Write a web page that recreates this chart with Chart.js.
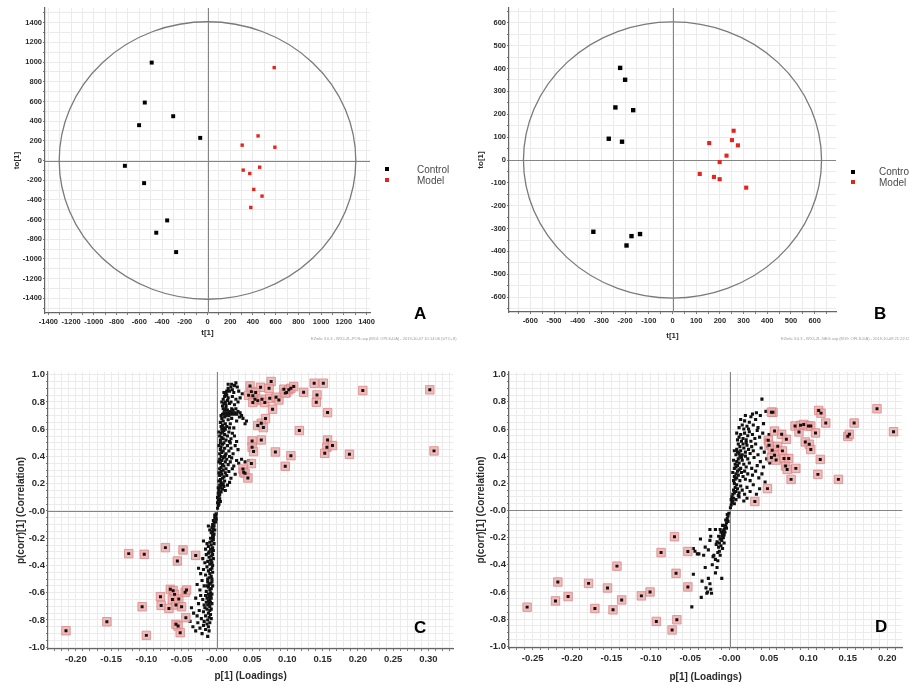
<!DOCTYPE html>
<html>
<head>
<meta charset="utf-8">
<script src="https://cdn.jsdelivr.net/npm/chart.js@4/dist/chart.umd.min.js"></script>
<style>
  html, body { margin: 0; padding: 0; background: #fff; }
  body { position: relative; width: 909px; height: 685px; overflow: hidden; font-family: "Liberation Sans", Arial, sans-serif; }
  canvas { position: absolute; }
  .tag { position: absolute; font: bold 17px "Liberation Sans", Arial, sans-serif; line-height: 17px; color: #000; }
  .leg { position: absolute; font: 10px "Liberation Sans", Arial, sans-serif; line-height: 10px; color: #4a4a4a; white-space: nowrap; }
  .mk { position: absolute; width: 4px; height: 4px; }
  .stamp { position: absolute; font: 4px "Liberation Sans", Arial, sans-serif; color: #9a9a9a; white-space: nowrap; }
</style>
</head>
<body>
<canvas id="cA" width="455" height="345" style="left:0;top:0"></canvas>
<canvas id="cB" width="454" height="345" style="left:455px;top:0"></canvas>
<canvas id="cC" width="460" height="340" style="left:0;top:345px"></canvas>
<canvas id="cD" width="449" height="340" style="left:460px;top:345px"></canvas>

<div class="mk" style="left:385px;top:167px;background:#000"></div>
<div class="leg" style="left:417px;top:165px">Control</div>
<div class="mk" style="left:385px;top:178px;background:#e52420"></div>
<div class="leg" style="left:417px;top:176px">Model</div>

<div class="mk" style="left:851px;top:170px;background:#000"></div>
<div class="leg" style="left:879px;top:167px">Control</div>
<div class="mk" style="left:851px;top:180px;background:#e52420"></div>
<div class="leg" style="left:879px;top:178px">Model</div>

<div class="tag" style="left:414px;top:305px">A</div>
<div class="tag" style="left:874px;top:305px">B</div>
<div class="tag" style="left:414px;top:619px">C</div>
<div class="tag" style="left:875px;top:618px">D</div>

<div class="stamp" style="left:311px;top:336px">EZinfo 3.0.3 - WXJ-ZL-POS.usp (M14: OPLS-DA) - 2019-10-07 10:14:06 (UTC+8)</div>
<div class="stamp" style="left:781px;top:336px">EZinfo 3.0.3 - WXJ-ZL-NEG.usp (M19: OPLS-DA) - 2019-10-08 21:22:15 (UTC+8)</div>

<script>
// ---------- Score plot A (positive ion mode) ----------
const A_CONTROL = [[-491,995],[-552,589],[-302,450],[-602,359],[-64,230],[-727,-54],[-558,-230],[-355,-609],[-451,-734],[-276,-931]];
const A_MODEL = [[587,944],[445,250],[305,156],[593,135],[459,-68],[314,-98],[372,-132],[407,-294],[480,-362],[381,-477]];
const A_TICK_LABELS = [-1400,-1200,-1000,-800,-600,-400,-200,0,200,400,600,800,1000,1200,1400];
const A_ELLIPSE = [1305, 1410];

// ---------- Score plot B (negative ion mode) ----------
const B_CONTROL = [[-221,403],[-200,351],[-241,230],[-166,218],[-269,93],[-213,80],[-334,-314],[-137,-324],[-173,-333],[-194,-374]];
const B_MODEL = [[258,128],[155,74],[251,87],[276,64],[228,19],[199,-9],[115,-61],[175,-74],[199,-84],[311,-121]];
const B_TICK_LABELS = [-600,-500,-400,-300,-200,-100,0,100,200,300,400,500,600];
const B_ELLIPSE = [629, 604];

// ---------- S-plot C: all variables ----------
const C_VARS = [
  [0.001,0.02],[0.002,0.04],[0.001,0.06],[0.003,0.05],[0.002,0.08],[0.004,0.09],[0.003,0.11],[0.001,0.10],[0.005,0.07],[0.002,0.13],
  [0.004,0.12],[0.006,0.14],[0.003,0.15],[0.005,0.17],[0.008,0.16],[0.004,0.19],[0.007,0.19],[0.010,0.18],[0.002,0.17],[0.006,0.21],[0.012,0.15],[0.009,0.20],[0.015,0.19],[0.003,0.22],
  [0.005,0.23],[0.008,0.24],[0.004,0.26],[0.007,0.27],[0.010,0.25],[0.012,0.28],[0.006,0.29],[0.009,0.30],[0.014,0.26],[0.017,0.29],[0.020,0.24],[0.003,0.28],[0.011,0.22],[0.018,0.21],[0.022,0.31],[0.026,0.27],[0.004,0.31],
  [0.006,0.32],[0.008,0.34],[0.005,0.35],[0.010,0.33],[0.012,0.36],[0.007,0.37],[0.004,0.38],[0.009,0.39],[0.014,0.38],[0.016,0.34],[0.019,0.36],[0.021,0.39],[0.024,0.33],[0.028,0.37],[0.031,0.35],[0.006,0.40],[0.011,0.40],[0.003,0.36],[0.035,0.38],[0.040,0.36],[0.045,0.37],[0.013,0.31],[0.018,0.40],
  [0.004,0.42],[0.007,0.43],[0.005,0.45],[0.009,0.44],[0.011,0.46],[0.006,0.47],[0.008,0.49],[0.013,0.42],[0.015,0.48],[0.003,0.48],[0.017,0.44],[0.020,0.46],[0.023,0.42],[0.010,0.50],[0.026,0.48],[0.030,0.45],[0.012,0.41],[0.005,0.50],[0.019,0.50],
  [0.005,0.52],[0.007,0.54],[0.004,0.55],[0.009,0.53],[0.006,0.57],[0.008,0.58],[0.011,0.56],[0.013,0.52],[0.010,0.59],[0.015,0.55],[0.017,0.58],[0.020,0.53],[0.003,0.58],[0.007,0.60],[0.022,0.57],[0.025,0.55],[0.012,0.60],[0.028,0.51],[0.018,0.51],
  [0.006,0.62],[0.008,0.63],[0.010,0.61],[0.005,0.65],[0.009,0.66],[0.012,0.64],[0.014,0.62],[0.007,0.68],[0.011,0.69],[0.016,0.67],[0.019,0.64],[0.021,0.68],[0.024,0.61],[0.013,0.70],[0.028,0.66],[0.032,0.69],[0.037,0.68],[0.040,0.64],[0.042,0.66],[0.018,0.61],[0.006,0.70],
  [0.008,0.71],[0.010,0.72],[0.012,0.71],[0.014,0.72],[0.016,0.71],[0.018,0.72],[0.020,0.71],[0.022,0.72],[0.024,0.71],[0.026,0.72],[0.028,0.71],[0.011,0.74],[0.015,0.74],[0.019,0.73],[0.023,0.74],[0.030,0.73],[0.033,0.72],[0.009,0.75],[0.013,0.76],[0.021,0.75],[0.027,0.75],[0.035,0.70],[0.017,0.70],
  [0.008,0.77],[0.010,0.79],[0.012,0.80],[0.009,0.82],[0.013,0.78],[0.015,0.81],[0.018,0.79],[0.011,0.84],[0.016,0.83],[0.020,0.80],[0.022,0.84],[0.025,0.78],[0.027,0.82],[0.014,0.85],[0.030,0.80],[0.033,0.83],[0.036,0.86],[0.007,0.80],
  [0.012,0.86],[0.014,0.88],[0.016,0.90],[0.013,0.87],[0.018,0.88],[0.020,0.91],[0.022,0.89],[0.016,0.93],[0.021,0.93],[0.025,0.92],[0.027,0.94],[0.029,0.91],[0.031,0.88],[0.024,0.87],[0.010,0.87],
  [-0.001,-0.02],[-0.002,-0.04],[-0.001,-0.06],[-0.003,-0.05],[-0.002,-0.08],[-0.004,-0.09],[-0.003,-0.03],[-0.005,-0.07],[-0.006,-0.10],
  [-0.004,-0.11],[-0.005,-0.13],[-0.003,-0.14],[-0.006,-0.15],[-0.007,-0.12],[-0.004,-0.17],[-0.006,-0.18],[-0.008,-0.16],[-0.005,-0.19],[-0.010,-0.14],[-0.009,-0.20],[-0.012,-0.11],
  [-0.005,-0.21],[-0.007,-0.22],[-0.004,-0.24],[-0.008,-0.25],[-0.006,-0.27],[-0.010,-0.23],[-0.009,-0.28],[-0.012,-0.26],[-0.005,-0.29],[-0.011,-0.30],[-0.014,-0.24],[-0.016,-0.28],[-0.019,-0.22],[-0.007,-0.30],
  [-0.006,-0.32],[-0.008,-0.33],[-0.005,-0.35],[-0.009,-0.36],[-0.007,-0.38],[-0.011,-0.34],[-0.010,-0.39],[-0.013,-0.37],[-0.006,-0.40],[-0.015,-0.32],[-0.017,-0.38],[-0.020,-0.35],[-0.012,-0.31],[-0.008,-0.37],
  [-0.007,-0.42],[-0.009,-0.43],[-0.006,-0.45],[-0.010,-0.46],[-0.008,-0.48],[-0.012,-0.44],[-0.011,-0.49],[-0.014,-0.41],[-0.007,-0.50],[-0.016,-0.47],[-0.019,-0.43],[-0.023,-0.46],[-0.013,-0.50],[-0.026,-0.42],
  [-0.007,-0.52],[-0.009,-0.53],[-0.006,-0.55],[-0.011,-0.54],[-0.008,-0.57],[-0.010,-0.58],[-0.013,-0.52],[-0.012,-0.56],[-0.015,-0.59],[-0.009,-0.60],[-0.018,-0.55],[-0.021,-0.51],[-0.024,-0.58],[-0.028,-0.54],[-0.014,-0.55],
  [-0.007,-0.61],[-0.009,-0.62],[-0.011,-0.63],[-0.008,-0.64],[-0.010,-0.65],[-0.012,-0.66],[-0.009,-0.67],[-0.011,-0.68],[-0.013,-0.69],[-0.010,-0.70],[-0.014,-0.64],[-0.015,-0.67],[-0.016,-0.62],[-0.018,-0.69],[-0.020,-0.65],[-0.023,-0.62],[-0.026,-0.68],[-0.030,-0.64],[-0.012,-0.61],[-0.007,-0.68],
  [-0.008,-0.72],[-0.010,-0.73],[-0.012,-0.75],[-0.009,-0.76],[-0.014,-0.72],[-0.011,-0.78],[-0.016,-0.77],[-0.013,-0.80],[-0.019,-0.74],[-0.022,-0.79],[-0.025,-0.73],[-0.028,-0.77],[-0.033,-0.75],[-0.036,-0.71],[-0.017,-0.71],[-0.008,-0.79],
  [-0.010,-0.82],[-0.012,-0.85],[-0.014,-0.83],[-0.011,-0.88],[-0.016,-0.87],[-0.019,-0.84],[-0.021,-0.90],[-0.024,-0.86],[-0.027,-0.82],[-0.013,-0.92],[-0.030,-0.88],[-0.034,-0.85],[-0.038,-0.81],[-0.018,-0.81]
];
// S-plot C: variables selected as differential metabolites
const C_MARKED = [
  [0.077,0.950],[0.047,0.918],[0.062,0.908],[0.074,0.900],[0.049,0.876],[0.055,0.869],[0.051,0.845],[0.045,0.849],[0.054,0.820],[0.058,0.810],
  [0.051,0.796],[0.064,0.820],[0.068,0.796],[0.075,0.827],[0.084,0.835],[0.088,0.815],[0.095,0.894],[0.099,0.869],[0.102,0.889],[0.105,0.900],
  [0.109,0.913],[0.097,0.865],[0.123,0.871],[0.138,0.938],[0.151,0.938],[0.142,0.852],[0.141,0.798],[0.207,0.884],[0.302,0.889],[0.079,0.747],
  [0.157,0.722],[0.069,0.678],[0.063,0.644],[0.058,0.627],[0.066,0.612],[0.117,0.590],[0.050,0.514],[0.063,0.521],[0.157,0.521],[0.156,0.468],
  [0.164,0.480],[0.153,0.423],[0.050,0.468],[0.052,0.436],[0.083,0.433],[0.105,0.406],[0.188,0.416],[0.308,0.441],[0.097,0.328],[0.049,0.348],
  [0.037,0.308],[0.038,0.284],[0.040,0.277],[0.044,0.242],
  [-0.125,-0.313],[-0.103,-0.318],[-0.073,-0.269],[-0.048,-0.286],[-0.030,-0.326],[-0.056,-0.367],[-0.080,-0.629],[-0.079,-0.693],[-0.066,-0.575],[-0.062,-0.585],
  [-0.060,-0.612],[-0.063,-0.649],[-0.068,-0.715],[-0.058,-0.690],[-0.054,-0.646],[-0.050,-0.703],[-0.045,-0.597],[-0.043,-0.580],[-0.106,-0.703],[-0.044,-0.783],
  [-0.058,-0.832],[-0.055,-0.845],[-0.052,-0.893],[-0.100,-0.913],[-0.156,-0.813],[-0.214,-0.879]
];
const C_X_LABELS = [-0.20,-0.15,-0.10,-0.05,0,0.05,0.10,0.15,0.20,0.25,0.30];
const CD_Y_LABELS = [-1.0,-0.8,-0.6,-0.4,-0.2,0,0.2,0.4,0.6,0.8,1.0];

// ---------- S-plot D: all variables ----------
const D_VARS = [
  [0.001,0.02],[0.002,0.04],[0.003,0.06],[0.002,0.08],[0.004,0.07],[0.005,0.09],[0.003,0.10],[0.006,0.05],[0.008,0.08],[0.012,0.10],[0.018,0.07],[0.022,0.09],
  [0.004,0.12],[0.006,0.13],[0.005,0.15],[0.008,0.14],[0.007,0.17],[0.010,0.16],[0.009,0.19],[0.012,0.13],[0.014,0.18],[0.016,0.15],[0.019,0.12],[0.022,0.17],[0.026,0.14],[0.030,0.19],[0.034,0.12],[0.038,0.16],[0.006,0.20],[0.011,0.11],
  [0.005,0.22],[0.007,0.23],[0.006,0.25],[0.009,0.24],[0.008,0.27],[0.011,0.26],[0.010,0.29],[0.013,0.22],[0.015,0.28],[0.017,0.25],[0.020,0.23],[0.019,0.29],[0.023,0.27],[0.026,0.22],[0.029,0.26],[0.033,0.29],[0.037,0.24],[0.041,0.27],[0.012,0.30],[0.004,0.28],[0.045,0.21],
  [0.006,0.31],[0.008,0.32],[0.007,0.34],[0.010,0.33],[0.009,0.36],[0.012,0.35],[0.011,0.38],[0.014,0.31],[0.016,0.37],[0.018,0.34],[0.013,0.40],[0.021,0.32],[0.023,0.38],[0.025,0.35],[0.028,0.31],[0.031,0.39],[0.035,0.33],[0.039,0.36],[0.043,0.32],[0.047,0.38],[0.051,0.35],[0.015,0.39],[0.005,0.37],[0.020,0.40],
  [0.008,0.41],[0.010,0.43],[0.012,0.42],[0.009,0.45],[0.014,0.44],[0.016,0.41],[0.013,0.47],[0.018,0.46],[0.020,0.43],[0.022,0.48],[0.024,0.45],[0.017,0.49],[0.026,0.42],[0.028,0.47],[0.030,0.44],[0.033,0.49],[0.036,0.41],[0.040,0.46],[0.044,0.43],[0.048,0.47],[0.011,0.49],[0.021,0.50],[0.006,0.44],
  [0.010,0.52],[0.012,0.54],[0.015,0.51],[0.014,0.56],[0.017,0.53],[0.019,0.57],[0.021,0.52],[0.023,0.55],[0.025,0.58],[0.027,0.51],[0.029,0.56],[0.032,0.53],[0.035,0.59],[0.038,0.54],[0.042,0.57],[0.046,0.52],[0.018,0.60],[0.024,0.60],[0.009,0.57],[0.050,0.56],
  [0.012,0.61],[0.016,0.63],[0.019,0.66],[0.022,0.62],[0.025,0.65],[0.027,0.69],[0.030,0.63],[0.033,0.67],[0.036,0.61],[0.039,0.70],[0.043,0.64],[0.046,0.73],[0.020,0.70],[0.014,0.67],[0.029,0.71],[0.041,0.82],[0.034,0.72],
  [-0.001,-0.02],[-0.002,-0.04],[-0.003,-0.06],[-0.002,-0.08],[-0.004,-0.09],[-0.005,-0.11],[-0.004,-0.13],[-0.006,-0.12],[-0.007,-0.14],[-0.006,-0.16],
  [-0.008,-0.15],[-0.009,-0.17],[-0.007,-0.18],[-0.010,-0.19],[-0.011,-0.16],[-0.012,-0.14],[-0.018,-0.14],[-0.025,-0.14],[-0.008,-0.20],[-0.010,-0.22],
  [-0.012,-0.21],[-0.013,-0.24],[-0.011,-0.26],[-0.014,-0.27],[-0.016,-0.23],[-0.017,-0.25],[-0.024,-0.19],[-0.025,-0.22],[-0.037,-0.21],[-0.031,-0.27],
  [-0.027,-0.29],[-0.013,-0.30],[-0.015,-0.31],[-0.009,-0.28],[-0.039,-0.32],[-0.033,-0.33],[-0.021,-0.34],[-0.018,-0.36],[-0.015,-0.37],[-0.046,-0.28],
  [-0.044,-0.30],[-0.041,-0.32],[-0.031,-0.42],[-0.046,-0.47],[-0.018,-0.46],[-0.027,-0.50],[-0.010,-0.50],[-0.035,-0.52],[-0.025,-0.54],[-0.030,-0.57],
  [-0.024,-0.58],[-0.029,-0.61],[-0.023,-0.61],[-0.036,-0.64],[-0.048,-0.71],[-0.020,-0.33],[-0.022,-0.40],[-0.016,-0.42],
  [-0.003,-0.03],[-0.005,-0.07],[-0.009,-0.11],[-0.011,-0.21],[-0.007,-0.24],[-0.014,-0.19],[-0.012,-0.33],[-0.028,-0.60]
];
// S-plot D: variables selected as differential metabolites
const D_MARKED = [
  [-0.257,-0.712],[-0.221,-0.666],[-0.218,-0.527],[-0.205,-0.634],[-0.179,-0.537],[-0.171,-0.722],[-0.155,-0.571],[-0.148,-0.732],[-0.143,-0.410],[-0.137,-0.659],
  [-0.112,-0.629],[-0.101,-0.600],[-0.093,-0.817],[-0.087,-0.310],[-0.073,-0.880],[-0.070,-0.193],[-0.068,-0.463],[-0.067,-0.805],[-0.053,-0.302],[-0.053,-0.563],
  [0.032,0.066],[0.048,0.161],[0.055,0.724],[0.053,0.724],[0.057,0.585],[0.049,0.517],[0.050,0.480],[0.054,0.444],[0.057,0.407],[0.053,0.390],
  [0.059,0.371],[0.061,0.473],[0.066,0.561],[0.067,0.439],[0.069,0.383],[0.072,0.524],[0.071,0.327],[0.073,0.302],[0.075,0.383],[0.078,0.229],
  [0.084,0.310],[0.083,0.622],[0.088,0.578],[0.090,0.627],[0.094,0.634],[0.100,0.622],[0.103,0.622],[0.096,0.505],[0.101,0.488],[0.103,0.449],
  [0.109,0.571],[0.112,0.266],[0.113,0.737],[0.116,0.717],[0.115,0.376],[0.122,0.644],[0.138,0.229],[0.150,0.546],[0.152,0.561],[0.158,0.644],
  [0.187,0.749],[0.208,0.580]
];
const D_X_LABELS = [-0.25,-0.20,-0.15,-0.10,-0.05,0,0.05,0.10,0.15,0.20];

const FONT = '"Liberation Sans", Arial, sans-serif';
const toXY = pts => pts.map(([x, y]) => ({ x, y }));

// positions of the grid/tick lines: every multiple of step inside [min, max]
function gridValues(min, max, step) {
  const out = [];
  for (let k = Math.ceil(min / step - 1e-9); k <= Math.floor(max / step + 1e-9); k++) {
    out.push(+(k * step).toFixed(6));
  }
  return out;
}

function axis(o) {
  return {
    type: 'linear',
    position: o.pos,
    min: o.min,
    max: o.max,
    afterBuildTicks(s) { s.ticks = gridValues(o.min, o.max, o.step).map(v => ({ value: v })); },
    afterFit(s) { if (o.pos === 'bottom') s.height = o.size; else s.width = o.size; },
    ticks: {
      autoSkip: false, maxRotation: 0, minRotation: 0,
      padding: o.pad, color: '#2b2b2b',
      font: { family: FONT, size: o.fs, weight: 'bold' },
      callback: v => o.labels.some(l => Math.abs(l - v) < o.step / 4) ? o.fmt(v) : ''
    },
    grid: {
      color: '#ebebeb', lineWidth: 1,
      drawTicks: true, tickLength: 2, tickColor: '#777', tickWidth: 1
    },
    border: { display: true, color: '#666', width: 1.2 },
    title: {
      display: true, text: o.title, color: '#2b2b2b',
      font: { family: FONT, size: o.tfs, weight: 'bold' },
      padding: o.tpad
    }
  };
}

// origin cross-hair lines, drawn over the light grid
const zeroLinesPlugin = {
  id: 'zeroLines',
  beforeDatasetsDraw(chart) {
    const { x, y } = chart.scales;
    const a = chart.chartArea;
    const ctx = chart.ctx;
    const px = Math.round(x.getPixelForValue(0)) + 0.5;
    const py = Math.round(y.getPixelForValue(0)) + 0.5;
    ctx.save();
    ctx.strokeStyle = '#858585';
    ctx.lineWidth = 1;
    ctx.beginPath();
    ctx.moveTo(px, a.top); ctx.lineTo(px, a.bottom);
    ctx.moveTo(a.left, py); ctx.lineTo(a.right, py);
    ctx.stroke();
    ctx.restore();
  }
};

// Hotelling T2 ellipse around the origin of the score plots
const ellipsePlugin = {
  id: 'hotelling',
  beforeDatasetsDraw(chart, args, opts) {
    if (!opts || !opts.rx) return;
    const { x, y } = chart.scales;
    const ctx = chart.ctx;
    const cx = x.getPixelForValue(0), cy = y.getPixelForValue(0);
    const rx = Math.abs(x.getPixelForValue(opts.rx) - cx);
    const ry = Math.abs(y.getPixelForValue(opts.ry) - cy);
    ctx.save();
    ctx.beginPath();
    ctx.ellipse(cx, cy, rx, ry, 0, 0, Math.PI * 2);
    ctx.strokeStyle = '#7a7a7a';
    ctx.lineWidth = 1.3;
    ctx.stroke();
    ctx.restore();
  }
};

const intFmt = v => String(Math.round(v));
const fmt2 = v => Math.abs(v) < 1e-9 ? '-0.00' : v.toFixed(2);
const fmt1 = v => Math.abs(v) < 1e-9 ? '-0.0' : v.toFixed(1);

function baseOptions(padding, xAxis, yAxis, extraPlugins) {
  return {
    responsive: false,
    animation: false,
    events: [],
    layout: { padding },
    plugins: Object.assign({ legend: { display: false }, tooltip: { enabled: false } }, extraPlugins || {}),
    scales: { x: xAxis, y: yAxis }
  };
}

function scoreChart(id, control, model, labels, range, step, ell, pad, xSize, ySize, xt, yt, rC, rM) {
  new Chart(document.getElementById(id), {
    type: 'scatter',
    data: {
      datasets: [
        { label: 'Model', data: toXY(model), pointStyle: 'rect', pointRadius: rM, backgroundColor: '#e52420', borderWidth: 0 },
        { label: 'Control', data: toXY(control), pointStyle: 'rect', pointRadius: rC, backgroundColor: '#000', borderWidth: 0 }
      ]
    },
    options: baseOptions(pad,
      axis({ pos: 'bottom', min: -range[0], max: range[0], step: step, labels, fmt: intFmt, size: xSize, pad: 2, fs: 7.5, title: 't[1]', tfs: 8, tpad: xt }),
      axis({ pos: 'left', min: -range[1], max: range[1], step: step, labels, fmt: intFmt, size: ySize, pad: 1, fs: 7.5, title: 'to[1]', tfs: 8, tpad: yt }),
      { hotelling: { rx: ell[0], ry: ell[1] } }),
    plugins: [zeroLinesPlugin, ellipsePlugin]
  });
}

function sPlot(id, vars, marked, xLabels, xRange, pad, xSize, ySize) {
  new Chart(document.getElementById(id), {
    type: 'scatter',
    data: {
      datasets: [
        { label: 'marked', data: toXY(marked), pointStyle: 'rect', pointRadius: 2.1, backgroundColor: '#111', borderWidth: 0 },
        { label: 'box', data: toXY(marked), pointStyle: 'rect', pointRadius: 6, backgroundColor: 'rgba(236,170,170,0.8)', borderColor: 'rgba(214,128,128,0.9)', borderWidth: 0.8 },
        { label: 'vars', data: toXY(vars), pointStyle: 'rect', pointRadius: 2.2, backgroundColor: '#111', borderWidth: 0 }
      ]
    },
    options: baseOptions(pad,
      axis({ pos: 'bottom', min: xRange[0], max: xRange[1], step: 0.01, labels: xLabels, fmt: fmt2, size: xSize, pad: 3, fs: 9.5, title: 'p[1] (Loadings)', tfs: 10, tpad: { top: 0, bottom: 1 } }),
      axis({ pos: 'left', min: -1.013, max: 1.02, step: 0.05, labels: CD_Y_LABELS, fmt: fmt1, size: ySize, pad: 1, fs: 9.5, title: 'p(corr)[1] (Correlation)', tfs: 10, tpad: { top: 5, bottom: 0 } })),
    plugins: [zeroLinesPlugin]
  });
}

scoreChart('cA', A_CONTROL, A_MODEL, A_TICK_LABELS, [1430, 1550], 100, A_ELLIPSE,
  { left: 8, top: 8, right: 85, bottom: 6 }, 26, 37, { top: 0, bottom: 1 }, { top: 4, bottom: 0 }, 2.8, 2.4);
scoreChart('cB', B_CONTROL, B_MODEL, B_TICK_LABELS, [690, 665], 50, B_ELLIPSE,
  { left: 16, top: 8, right: 73, bottom: 3 }, 30, 38, { top: 0, bottom: 1 }, { top: 5, bottom: 0 }, 3.1, 2.9);
sPlot('cC', C_VARS, C_MARKED, C_X_LABELS, [-0.2395, 0.3352], { left: 10, top: 27, right: 3, bottom: 2 }, 34, 38);
sPlot('cD', D_VARS, D_MARKED, D_X_LABELS, [-0.28, 0.219], { left: 10, top: 27, right: 1, bottom: 1 }, 36, 39);
</script>
</body>
</html>
